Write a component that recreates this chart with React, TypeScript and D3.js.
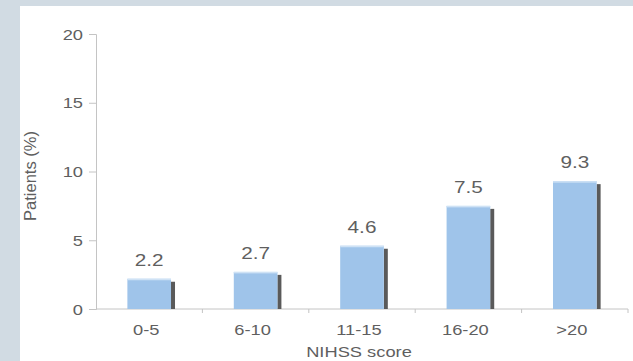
import React, { useEffect, useRef } from "react"
import * as d3 from "d3"

const categories = ["0-5", "6-10", "11-15", "16-20", ">20"]
const patientsPct = [2.2, 2.7, 4.6, 7.5, 9.3]
const yTicks = [0, 5, 10, 15, 20]

const App: React.FC = () => {
  const svgRef = useRef<SVGSVGElement>(null)

  useEffect(() => {
    const svg = d3.select(svgRef.current)
    svg.selectAll("*").remove()

    const width = 633
    const height = 361
    const margin = { top: 34, right: 5, bottom: 52, left: 96 }
    const textColor = "#5f5f5f"
    const font = "Liberation Sans, Arial, sans-serif"
    const stretch = 1.22 // the original text is a little wide

    svg.attr("width", width).attr("height", height)

    // page background + white panel
    svg.append("rect").attr("width", width).attr("height", height).attr("fill", "#d1dbe3")
    svg.append("rect").attr("x", 20).attr("y", 6).attr("width", width - 20).attr("height", height - 6).attr("fill", "#ffffff")

    const x = d3
      .scaleBand()
      .domain(categories)
      .range([margin.left, width - margin.right])
      .paddingInner(0.59)
      .paddingOuter(0.295)

    const y = d3
      .scaleLinear()
      .domain([0, 20])
      .range([height - margin.bottom, margin.top])

    const data = categories.map((c, i) => ({ cat: c, value: patientsPct[i] }))
    const cx = (c: string) => (x(c) || 0) + x.bandwidth() / 2

    // y axis
    const yAxis = svg.append("g").attr("transform", `translate(${margin.left},0)`)
      .call(d3.axisLeft(y).tickValues(yTicks).tickSize(7).tickFormat(() => ""))
    yAxis.select(".domain").attr("stroke", "#c4c4c4")
    yAxis.selectAll(".tick line").attr("stroke", "#c4c4c4")

    svg.selectAll(".ylabel")
      .data(yTicks)
      .enter()
      .append("text")
      .attr("transform", (d) => `translate(83,${y(d) + 5.5}) scale(${stretch},1)`)
      .attr("text-anchor", "end")
      .attr("fill", textColor)
      .attr("font-size", 15)
      .attr("font-family", font)
      .text((d) => d)

    // x axis with ticks at band boundaries
    const x0 = margin.left
    const x1 = width - margin.right
    const baseY = y(0)
    svg.append("line").attr("x1", x0).attr("x2", x1).attr("y1", baseY).attr("y2", baseY).attr("stroke", "#c4c4c4")
    const step = x.step()
    const bounds = d3.range(1, categories.length + 1).map((i) => x0 + i * step)
    svg.selectAll(".xtick")
      .data(bounds)
      .enter()
      .append("line")
      .attr("x1", (d) => d).attr("x2", (d) => d)
      .attr("y1", baseY).attr("y2", baseY + 4)
      .attr("stroke", "#c4c4c4")

    svg.selectAll(".xlabel")
      .data(categories)
      .enter()
      .append("text")
      .attr("transform", (d) => `translate(${cx(d) - 3},335) scale(${stretch},1)`)
      .attr("text-anchor", "middle")
      .attr("fill", textColor)
      .attr("font-size", 15)
      .attr("font-family", font)
      .text((d) => d)

    // shadows
    svg.selectAll(".shadow")
      .data(data)
      .enter()
      .append("rect")
      .attr("x", (d) => (x(d.cat) || 0) + x.bandwidth())
      .attr("y", (d) => y(d.value) + 3)
      .attr("width", 4)
      .attr("height", (d) => baseY - y(d.value) - 3)
      .attr("fill", "#5a5a5a")

    // bars
    svg.selectAll(".bar")
      .data(data)
      .enter()
      .append("rect")
      .attr("x", (d) => x(d.cat) || 0)
      .attr("y", (d) => y(d.value))
      .attr("width", x.bandwidth())
      .attr("height", (d) => baseY - y(d.value))
      .attr("fill", "#9fc4ea")

    svg.selectAll(".bartop")
      .data(data)
      .enter()
      .append("rect")
      .attr("x", (d) => x(d.cat) || 0)
      .attr("y", (d) => y(d.value))
      .attr("width", x.bandwidth())
      .attr("height", 1.5)
      .attr("fill", "#cfe2f5")

    // value labels
    svg.selectAll(".value")
      .data(data)
      .enter()
      .append("text")
      .attr("transform", (d) => `translate(${cx(d.cat)},${y(d.value) - 13}) scale(${stretch},1)`)
      .attr("text-anchor", "middle")
      .attr("fill", textColor)
      .attr("font-size", 17)
      .attr("font-family", font)
      .text((d) => d.value.toFixed(1))

    // axis titles
    svg.append("text")
      .attr("transform", `translate(${(x0 + x1) / 2 - 3},357) scale(${stretch},1)`)
      .attr("text-anchor", "middle")
      .attr("fill", textColor)
      .attr("font-size", 15)
      .attr("font-family", font)
      .text("NIHSS score")

    svg.append("text")
      .attr("transform", `translate(36,176) rotate(-90)`)
      .attr("text-anchor", "middle")
      .attr("fill", textColor)
      .attr("font-size", 16.5)
      .attr("font-family", font)
      .text("Patients (%)")
  }, [])

  return (
    <div style={{ position: "fixed", left: 0, top: 0 }}>
      <svg ref={svgRef}></svg>
    </div>
  )
}

export default App
